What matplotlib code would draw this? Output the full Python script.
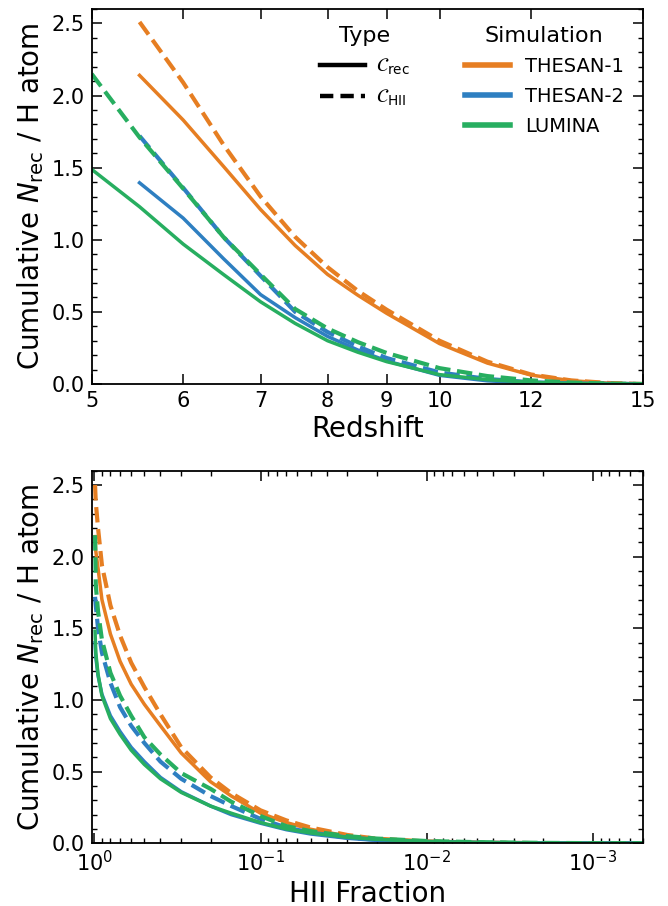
import numpy as np
import matplotlib
matplotlib.use("Agg")
import matplotlib.pyplot as plt
from matplotlib.lines import Line2D
from matplotlib.ticker import FixedLocator, FixedFormatter, NullLocator, MultipleLocator, LogLocator

# ---------------- data ----------------
sim_names = ["THESAN-1", "THESAN-2", "LUMINA"]
sim_colors = ["#e67e22", "#2e7fc1", "#27ae60"]

# top panel: cumulative recombinations vs redshift
z_lumina = [5.0, 5.5, 6.0, 6.5, 7.0, 7.5, 8.0, 8.5, 9.0, 10.0, 11.0, 12.0, 13.0, 14.0, 15.0]
z_thesan = [5.5, 6.0, 6.5, 7.0, 7.5, 8.0, 8.5, 9.0, 10.0, 11.0, 12.0, 13.0, 14.0, 15.0]

t1_rec_z = [2.14, 1.83, 1.51, 1.21, 0.96, 0.76, 0.615, 0.49, 0.28, 0.145, 0.062, 0.023, 0.006, 0.0]
t1_hii_z = [2.51, 2.09, 1.66, 1.30, 1.02, 0.81, 0.645, 0.515, 0.30, 0.155, 0.066, 0.025, 0.007, 0.0]
t2_rec_z = [1.395, 1.15, 0.87, 0.62, 0.46, 0.33, 0.235, 0.16, 0.06, 0.022, 0.007, 0.002, 0.0, 0.0]
t2_hii_z = [1.72, 1.36, 1.02, 0.75, 0.50, 0.36, 0.26, 0.18, 0.08, 0.035, 0.012, 0.004, 0.001, 0.0]
lu_rec_z = [1.488, 1.229, 0.97, 0.76, 0.57, 0.42, 0.30, 0.22, 0.155, 0.065, 0.03, 0.012, 0.004, 0.001, 0.0]
lu_hii_z = [2.15, 1.71, 1.355, 1.02, 0.76, 0.52, 0.385, 0.29, 0.215, 0.11, 0.055, 0.025, 0.01, 0.003, 0.0]

# bottom panel: cumulative recombinations vs HII fraction
x_hii = [0.99, 0.98, 0.95, 0.9, 0.8, 0.7, 0.6, 0.5, 0.4, 0.3, 0.2, 0.15, 0.1, 0.07,
         0.05, 0.03, 0.02, 0.01, 0.005, 0.002, 0.001, 0.0005]

t1_rec_x = [2.14, 2.04, 1.92, 1.70, 1.46, 1.27, 1.11, 0.97, 0.82, 0.63, 0.43, 0.33, 0.21, 0.145,
            0.098, 0.05, 0.029, 0.012, 0.004, 0.001, 0.0, 0.0]
t1_hii_x = [2.50, 2.38, 2.20, 1.94, 1.66, 1.45, 1.26, 1.09, 0.90, 0.67, 0.46, 0.35, 0.23, 0.16,
            0.11, 0.058, 0.032, 0.013, 0.005, 0.001, 0.0003, 0.0]
t2_rec_x = [1.40, 1.30, 1.17, 1.04, 0.89, 0.78, 0.67, 0.57, 0.46, 0.36, 0.26, 0.20, 0.14, 0.095,
            0.065, 0.035, 0.02, 0.008, 0.003, 0.001, 0.0, 0.0]
t2_hii_x = [1.72, 1.66, 1.50, 1.33, 1.12, 0.95, 0.82, 0.70, 0.57, 0.45, 0.33, 0.26, 0.17, 0.11,
            0.075, 0.04, 0.025, 0.01, 0.004, 0.001, 0.0, 0.0]
lu_rec_x = [1.48, 1.33, 1.18, 1.03, 0.87, 0.76, 0.65, 0.55, 0.45, 0.355, 0.26, 0.21, 0.145, 0.10,
            0.072, 0.042, 0.028, 0.013, 0.006, 0.002, 0.0005, 0.0]
lu_hii_x = [2.15, 1.80, 1.62, 1.42, 1.19, 1.03, 0.89, 0.74, 0.62, 0.49, 0.38, 0.29, 0.19, 0.12,
            0.085, 0.05, 0.033, 0.016, 0.008, 0.003, 0.001, 0.0]

z_ticks = [5, 6, 7, 8, 9, 10, 12, 15]

# ---------------- figure ----------------
W, H = 668, 906
fig = plt.figure(figsize=(W / 100, H / 100), dpi=100)

def axes_px(left, right, top, bottom):
    return fig.add_axes([left / W, 1 - bottom / H, (right - left) / W, (bottom - top) / H])

ax1 = axes_px(91.7, 643, 9, 384)
ax2 = axes_px(91.7, 643, 470.7, 843.3)

LW_S = 2.5
LW_D = 3.0

top_series = [
    (z_thesan, t1_rec_z, t1_hii_z),
    (z_thesan, t2_rec_z, t2_hii_z),
    (z_lumina, lu_rec_z, lu_hii_z),
]
for (zz, rec, hii), c in zip(top_series, sim_colors):
    ax1.plot(zz, rec, color=c, lw=LW_S, ls="-")
    ax1.plot(zz, hii, color=c, lw=LW_D, ls="--")

bot_series = [
    (t1_rec_x, t1_hii_x),
    (t2_rec_x, t2_hii_x),
    (lu_rec_x, lu_hii_x),
]
for (rec, hii), c in zip(bot_series, sim_colors):
    ax2.plot(x_hii, rec, color=c, lw=LW_S, ls="-")
    ax2.plot(x_hii, hii, color=c, lw=LW_D, ls="--")

# top axes formatting
ax1.set_xscale("log")
ax1.set_xlim(5, 15)
ax1.xaxis.set_major_locator(FixedLocator(z_ticks))
ax1.xaxis.set_major_formatter(FixedFormatter([str(t) for t in z_ticks]))
ax1.xaxis.set_minor_locator(NullLocator())
ax1.set_ylim(0, 2.6)
ax1.yaxis.set_major_locator(MultipleLocator(0.5))
ax1.yaxis.set_minor_locator(MultipleLocator(0.1))
ax1.set_xlabel("Redshift", fontsize=20, labelpad=3)

# bottom axes formatting
ax2.set_xscale("log")
ax2.set_xlim(1.037, 5.0e-4)
ax2.xaxis.set_major_locator(LogLocator(base=10, numticks=10))
ax2.xaxis.set_minor_locator(LogLocator(base=10, subs=np.arange(2, 10), numticks=20))
ax2.set_ylim(0, 2.6)
ax2.yaxis.set_major_locator(MultipleLocator(0.5))
ax2.yaxis.set_minor_locator(MultipleLocator(0.1))
ax2.set_xlabel("HII Fraction", fontsize=20, labelpad=3)

for ax in (ax1, ax2):
    ax.set_ylabel(r"Cumulative $N_{\rm rec}$ / H atom", fontsize=20, labelpad=4)
    ax.tick_params(which="both", direction="in", top=True, right=True, labelsize=15)
    ax.tick_params(axis="x", which="major", pad=5)
    ax.tick_params(axis="y", which="major", pad=5)
    ax.tick_params(which="major", length=7, width=1.1)
    ax.tick_params(which="minor", length=3.5, width=1.0)
    for s in ax.spines.values():
        s.set_linewidth(1.3)

# legends
type_handles = [
    Line2D([], [], color="black", lw=3.2, ls="-"),
    Line2D([], [], color="black", lw=3.2, ls=(0, (3.0, 1.6))),
]
type_labels = [r"$\mathcal{C}_{\rm rec}$", r"$\mathcal{C}_{\rm HII}$"]
leg1 = ax1.legend(type_handles, type_labels, title="Type", loc="upper left",
                  bbox_to_anchor=(0.382, 1.0), frameon=False, fontsize=14,
                  title_fontsize=16, handlelength=2.3, handletextpad=0.6,
                  labelspacing=0.55)
ax1.add_artist(leg1)

sim_handles = [Line2D([], [], color=c, lw=4) for c in sim_colors]
leg2 = ax1.legend(sim_handles, sim_names, title="Simulation", loc="upper left",
                  bbox_to_anchor=(0.645, 1.0), frameon=False, fontsize=14,
                  title_fontsize=16, handlelength=2.3, handletextpad=0.8,
                  labelspacing=0.55)

fig.savefig("out.png", dpi=100)
